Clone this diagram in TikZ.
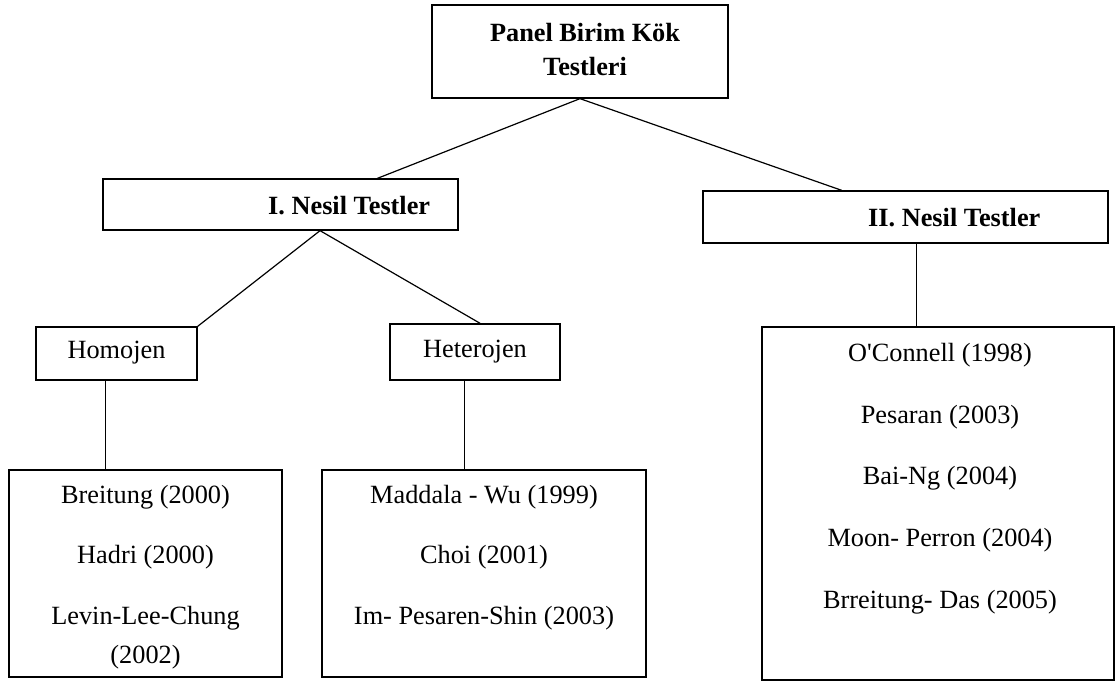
\documentclass[tikz,border=0pt]{standalone}
\usepackage{fontspec}
\setmainfont{Liberation Serif}
\usetikzlibrary{calc}
\begin{document}
\begin{tikzpicture}[x=1pt,y=-1pt,
  box/.style={draw, line width=1.3pt, inner sep=0pt},
  txt/.style={font=\fontsize{26.3}{34}\selectfont, inner sep=0pt, anchor=center},
  btxt/.style={font=\fontsize{26.3}{34}\selectfont\bfseries, inner sep=0pt},
  link/.style={line width=1.2pt}]
\useasboundingbox (0,0) rectangle (1118,682);
% boxes
\node[box, minimum width=296pt, minimum height=93pt] (top) at (580,51.5) {};
\node[box, minimum width=355pt, minimum height=51pt] (gen1) at (280.5,204.5) {};
\node[box, minimum width=405pt, minimum height=52pt] (gen2) at (905.5,217) {};
\node[box, minimum width=161pt, minimum height=53pt] (hom) at (116.5,353.5) {};
\node[box, minimum width=170pt, minimum height=56pt] (het) at (475,352) {};
\node[box, minimum width=273pt, minimum height=207pt] (lhom) at (145.5,573.5) {};
\node[box, minimum width=324pt, minimum height=207pt] (lhet) at (484,573.5) {};
\node[box, minimum width=352pt, minimum height=353pt] (lgen2) at (938,503.5) {};
% texts
\node[btxt, align=center] (ttop) at (585,50) {Panel Birim Kök\\Testleri};
\node[btxt, anchor=west] (tgen1) at (268,206) {I. Nesil Testler};
\node[btxt, anchor=west] (tgen2) at (868,218) {II. Nesil Testler};
\node[txt] (thom) at (116.5,353) {Homojen};
\node[txt] (thet) at (475,352) {Heterojen};
\node[txt] (a1) at (145.5,497) {Breitung (2000)};
\node[txt] (a2) at (145.5,557) {Hadri (2000)};
\node[txt] (a3) at (145.5,618) {Levin-Lee-Chung};
\node[txt] (a4) at (145.5,657) {(2002)};
\node[txt] (b1) at (484,497) {Maddala - Wu (1999)};
\node[txt] (b2) at (484,557) {Choi (2001)};
\node[txt] (b3) at (484,618) {Im- Pesaren-Shin (2003)};
\node[txt] (c1) at (940,355) {O\textquotesingle Connell (1998)};
\node[txt] (c2) at (940,417) {Pesaran (2003)};
\node[txt] (c3) at (940,478) {Bai-Ng (2004)};
\node[txt] (c4) at (940,540) {Moon- Perron (2004)};
\node[txt] (c5) at (940,602) {Brreitung- Das (2005)};
% connectors
\draw[link] (top.south) -- ($(gen1.north west)!0.772!(gen1.north east)$);
\draw[link] (top.south) -- ($(gen2.north west)!0.343!(gen2.north east)$);
\draw[link] ($(gen1.south west)!0.611!(gen1.south east)$) -- (hom.north east);
\draw[link] ($(gen1.south west)!0.611!(gen1.south east)$) -- ($(het.north west)!0.53!(het.north east)$);
\draw[link] ($(hom.south west)!0.43!(hom.south east)$) coordinate (hv) -- (hv |- lhom.north);
\draw[link] ($(het.south west)!0.44!(het.south east)$) coordinate (tv) -- (tv |- lhet.north);
\draw[link] ($(gen2.south west)!0.528!(gen2.south east)$) coordinate (gv) -- (gv |- lgen2.north);
\end{tikzpicture}
\end{document}
